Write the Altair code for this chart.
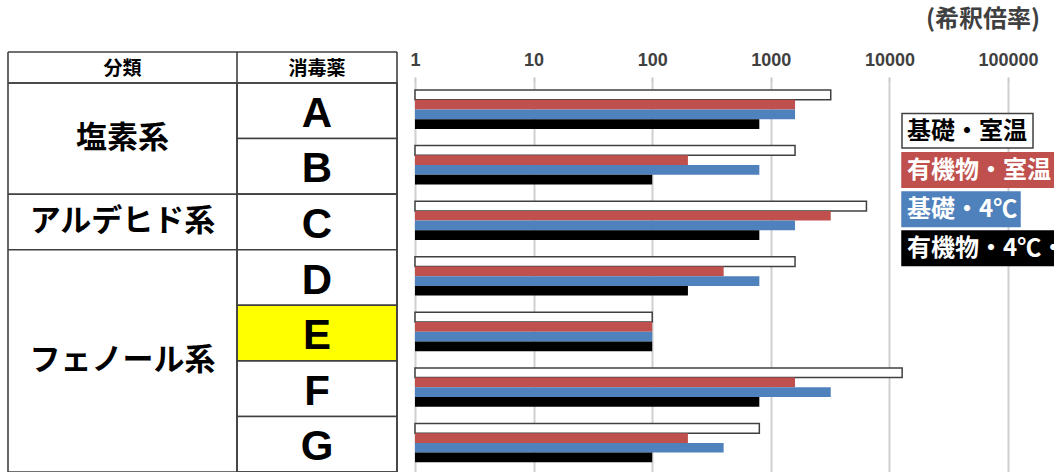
import altair as alt
import pandas as pd

# ---------------- data ----------------
drugs = ["A", "B", "C", "D", "E", "F", "G"]
series = ["基礎・室温", "有機物・室温", "基礎・4℃", "有機物・4℃・"]
kiso_room = [3200, 1600, 6400, 1600, 100, 12800, 800]
yuki_room = [1600, 200, 3200, 400, 100, 1600, 200]
kiso_4c = [1600, 800, 1600, 800, 100, 3200, 400]
yuki_4c = [800, 100, 800, 200, 100, 800, 100]
series_values = [kiso_room, yuki_room, kiso_4c, yuki_4c]
colors = ["#ffffff", "#c0504d", "#4f81bd", "#000000"]
text_colors = ["#000000", "#ffffff", "#ffffff", "#ffffff"]
groups = ["塩素系", "アルデヒド系", "フェノール系"]
group_rows = [["A", "B"], ["C"], ["D", "E", "F", "G"]]
highlight = ["E"]
tick_values = [1, 10, 100, 1000, 10000, 100000]
header = ["分類", "消毒薬"]
unit = "(希釈倍率)"

# ---------------- layout constants ----------------
W, H = 639, 389
PAD_L, PAD_T = 415, 83
XMAX = 244000
COL0, COL1, COL2 = -407, -178, -18
HEAD_TOP = -31
LINE = "#404040"
LW = 1.6
JP = "Noto Sans CJK JP"
LEG_X = 487
LEG_Y0 = 30.5
LEG_H = 34.5
LEG_PITCH = 39.2
LEG_W = [131, 155, 118, 175]

rows = []
for s, vals in zip(series, series_values):
    for d, v in zip(drugs, vals):
        rows.append({"drug": d, "series": s, "value": v})
df = pd.DataFrame(rows)

yscale = alt.Scale(domain=drugs, paddingInner=0, paddingOuter=0)
one = alt.Data(values=[{}])

layers = []

# 消毒薬 column cells
cells = pd.DataFrame({"drug": drugs,
                      "fill": ["#ffff00" if d in highlight else "#ffffff" for d in drugs]})
layers.append(
    alt.Chart(cells).mark_rect(stroke=LINE, strokeWidth=LW).encode(
        y=alt.Y("drug:N", sort=drugs, scale=yscale, axis=None),
        x=alt.value(COL1), x2=alt.value(COL2),
        fill=alt.Fill("fill:N", scale=None),
    )
)

# group boundary rules in 分類 column
starts = pd.DataFrame({"drug": [g[0] for g in group_rows]})
layers.append(
    alt.Chart(starts).mark_rule(color=LINE, strokeWidth=LW).encode(
        y=alt.Y("drug:N", sort=drugs, bandPosition=0, axis=None),
        x=alt.value(COL0), x2=alt.value(COL1),
    )
)

# vertical table lines and header lines
for xv in [COL0, COL1, COL2]:
    layers.append(alt.Chart(one).mark_rule(color=LINE, strokeWidth=LW).encode(
        x=alt.value(xv), y=alt.value(HEAD_TOP), y2=alt.value(H)))
for yv in [HEAD_TOP, 0, H]:
    layers.append(alt.Chart(one).mark_rule(color=LINE, strokeWidth=LW).encode(
        y=alt.value(yv), x=alt.value(COL0), x2=alt.value(COL2)))

# header texts
for i, h in enumerate(header):
    cx = (COL0 + COL1) / 2 if i == 0 else (COL1 + COL2) / 2
    layers.append(alt.Chart(one).mark_text(
        font=JP, fontSize=19, fontWeight="bold", color="#000000",
        align="center", baseline="middle").encode(
        x=alt.value(cx), y=alt.value(HEAD_TOP / 2 + 1), text=alt.value(h)))

# drug letters
layers.append(
    alt.Chart(pd.DataFrame({"drug": drugs})).mark_text(
        font="Liberation Sans", fontSize=42, fontWeight="bold", color="#000000",
        align="center", baseline="middle", dy=3).encode(
        y=alt.Y("drug:N", sort=drugs, axis=None),
        x=alt.value((COL1 + COL2) / 2),
        text="drug:N",
    )
)

# group labels
for g, rws in zip(groups, group_rows):
    s = drugs.index(rws[0])
    mid = s + len(rws) / 2
    anchor = int(mid)
    bp = mid - anchor
    layers.append(
        alt.Chart(pd.DataFrame({"drug": [drugs[anchor]], "label": [g]})).mark_text(
            font=JP, fontSize=31, fontWeight="bold", color="#000000",
            align="center", baseline="middle").encode(
            y=alt.Y("drug:N", sort=drugs, bandPosition=bp, axis=None),
            x=alt.value((COL0 + COL1) / 2),
            text="label:N",
        )
    )

# bars (drawn from the axis origin, value 1, to each dilution value)
bars = alt.Chart(df).mark_rect(strokeWidth=1.5).encode(
    x=alt.X("value:Q",
            scale=alt.Scale(type="log", domain=[1, XMAX], nice=False),
            axis=alt.Axis(orient="top", values=tick_values, format="d", title=None,
                          grid=True, gridColor="#d0d0d0", gridWidth=2,
                          ticks=True, tickSize=6, tickColor="#c8c8c8", tickWidth=2,
                          domain=False, labelFont="Liberation Sans", labelFontSize=18,
                          labelFontWeight="bold", labelColor="#404040",
                          labelPadding=8, labelFlush=False)),
    x2=alt.datum(1),
    y=alt.Y("drug:N", sort=drugs, scale=yscale, axis=None),
    yOffset=alt.YOffset("series:N", sort=series,
                        scale=alt.Scale(domain=series, paddingInner=0,
                                        paddingOuter=0.86, align=0.42)),
    fill=alt.Fill("series:N", scale=alt.Scale(domain=series, range=colors), legend=None),
    stroke=alt.condition(alt.datum.series == series[0], alt.value(LINE), alt.value("transparent")),
)
layers.append(bars)

# legend boxes
for i, s in enumerate(series):
    y0 = LEG_Y0 + i * LEG_PITCH
    layers.append(alt.Chart(one).mark_rect(
        fill=colors[i], stroke=LINE if i == 0 else colors[i], strokeWidth=1.5).encode(
        x=alt.value(LEG_X), x2=alt.value(LEG_X + LEG_W[i]),
        y=alt.value(y0), y2=alt.value(y0 + LEG_H)))
    layers.append(alt.Chart(one).mark_text(
        font=JP, fontSize=24, fontWeight="bold", color=text_colors[i],
        align="left", baseline="middle").encode(
        x=alt.value(LEG_X + 5), y=alt.value(y0 + LEG_H / 2 + 1), text=alt.value(s)))

# unit label
layers.append(alt.Chart(one).mark_text(
    font=JP, fontSize=24, fontWeight="bold", color="#404040",
    align="center", baseline="middle").encode(
    x=alt.value(983 - PAD_L), y=alt.value(20 - PAD_T), text=alt.value(unit)))

chart = alt.layer(*layers).properties(
    width=W, height=H,
    autosize=alt.AutoSizeParams(type="none"),
    padding={"left": PAD_L, "top": PAD_T, "right": 0, "bottom": 0},
    background="#ffffff",
).configure_view(stroke=None)

chart.save("out.html", embed_options={"renderer": "svg", "actions": False})
